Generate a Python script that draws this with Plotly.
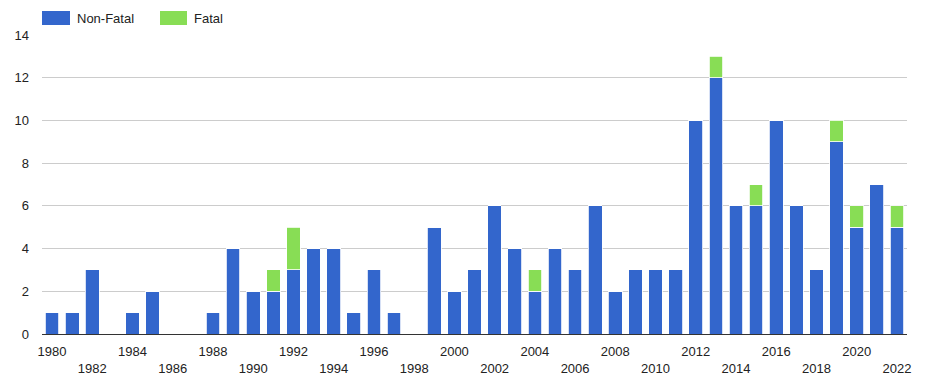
import plotly.graph_objects as go

years = list(range(1980, 2023))
non_fatal = [1, 1, 3, 0, 1, 2, 0, 0, 1, 4, 2, 2, 3, 4, 4, 1, 3, 1, 0, 5,
             2, 3, 6, 4, 2, 4, 3, 6, 2, 3, 3, 3, 10, 12, 6, 6, 10, 6, 3, 9,
             5, 7, 5]
fatal = [0, 0, 0, 0, 0, 0, 0, 0, 0, 0, 0, 1, 2, 0, 0, 0, 0, 0, 0, 0,
         0, 0, 0, 0, 1, 0, 0, 0, 0, 0, 0, 0, 0, 1, 0, 1, 0, 0, 0, 1,
         1, 0, 1]

tick_years = list(range(1980, 2023, 2))
tick_labels = [str(y) if (y - 1980) % 4 == 0 else "<br>" + str(y) for y in tick_years]

BLUE = "#3366cc"
GREEN = "#88dd55"

fig = go.Figure()
fig.add_trace(go.Bar(x=years, y=non_fatal, name="Non-Fatal", marker_color=BLUE,
                     marker_line=dict(color="white", width=0.8)))
fig.add_trace(go.Bar(x=years, y=fatal, name="Fatal", marker_color=GREEN,
                     marker_line=dict(color="white", width=0.8)))

# page body has an 8px margin; figure is placed at (8, 8) on screen
OFF = 8
W, H = 911, 375
SL, SR, ST, SB = 42, 907, 35, 334  # plot area in screen pixels
L, T = SL - OFF, ST - OFF
R = W - (SR - OFF)
B = H - (SB - OFF)


def px_x(p):
    return (p - SL) / (SR - SL)


def px_y(p):
    return (SB - p) / (SB - ST)


shapes = [
    dict(type="rect", xref="paper", yref="paper", x0=px_x(42), x1=px_x(70),
         y0=px_y(25), y1=px_y(11), fillcolor=BLUE, line_width=0),
    dict(type="rect", xref="paper", yref="paper", x0=px_x(160), x1=px_x(187),
         y0=px_y(25), y1=px_y(11), fillcolor=GREEN, line_width=0),
]
annotations = [
    dict(xref="paper", yref="paper", x=px_x(75), y=px_y(18), text="Non-Fatal",
         showarrow=False, xanchor="left", yanchor="middle",
         font=dict(size=13, color="#222222")),
    dict(xref="paper", yref="paper", x=px_x(192), y=px_y(18), text="Fatal",
         showarrow=False, xanchor="left", yanchor="middle",
         font=dict(size=13, color="#222222")),
]

fig.update_layout(
    barmode="stack",
    bargap=0.32,
    width=W, height=H,
    margin=dict(l=L, r=R, t=T, b=B, autoexpand=False),
    paper_bgcolor="white",
    plot_bgcolor="white",
    showlegend=False,
    font=dict(family="Arial, Liberation Sans, sans-serif", size=13, color="#222222"),
    shapes=shapes,
    annotations=annotations,
    xaxis=dict(
        range=[1979.5, 2022.5],
        tickmode="array",
        tickvals=tick_years,
        ticktext=tick_labels,
        showgrid=False,
        ticks="",
        showline=False,
        zeroline=False,
        ticklabelstandoff=8,
        automargin=False,
        fixedrange=True,
    ),
    yaxis=dict(
        range=[0, 14],
        tickmode="array",
        tickvals=list(range(0, 15, 2)),
        showgrid=True,
        gridcolor="#cccccc",
        gridwidth=1,
        zeroline=True,
        zerolinecolor="#333333",
        zerolinewidth=1,
        ticks="",
        ticklabelstandoff=12,
        automargin=False,
        fixedrange=True,
    ),
)

fig.write_html("out.html")
